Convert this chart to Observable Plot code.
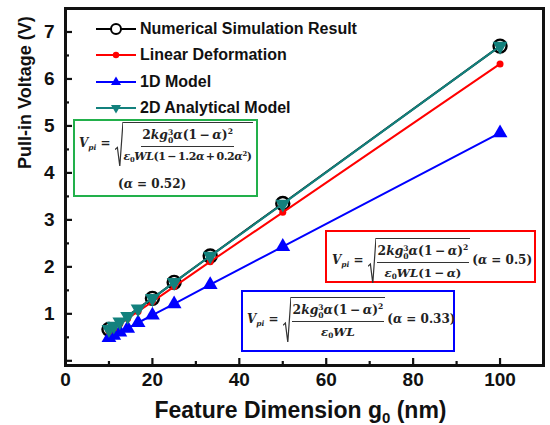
<!DOCTYPE html>
<html>
<head>
<meta charset="utf-8">
<script src="https://cdn.jsdelivr.net/npm/d3@7"></script>
<script src="https://cdn.jsdelivr.net/npm/@observablehq/plot@0.6"></script>
<style>
  html,body{margin:0;padding:0;background:#fff;}
  #wrap{position:relative;width:550px;height:425px;overflow:hidden;}
  #legend{position:absolute;left:96px;top:16px;font-family:"Liberation Sans",Arial,sans-serif;font-weight:bold;font-size:16px;color:#111;}
  #legend .row{display:flex;align-items:center;height:26.3px;}
  #legend svg{margin-right:4px;flex:none;}
  .fbox{position:absolute;border:2px solid;background:#fff;box-sizing:border-box;font-family:"DejaVu Serif",serif;font-weight:bold;font-style:normal;font-size:12px;color:#222;line-height:1.3;}
  .fbox i{font-style:italic;}
  .line{display:flex;align-items:center;white-space:nowrap;}
  .lhs{margin-right:4px;font-size:12px;}
  .lhs sub{font-size:0.62em;vertical-align:-0.35em;line-height:0;}
  .ss{position:relative;display:inline-block;font-size:0.62em;line-height:1;width:0.7em;}
  .ss .u{position:relative;top:-0.55em;}
  .ss .d{position:absolute;left:0;top:0.55em;}
  sup{font-size:0.62em;vertical-align:0.6em;line-height:0;}
  .num sub,.den sub{font-size:0.62em;vertical-align:-0.3em;line-height:0;}
  .rad{display:inline-flex;align-items:stretch;}
  .rsign{width:8px;flex:none;display:block;}
  .frac{display:inline-flex;flex-direction:column;align-items:center;border-top:1.2px solid #333;padding:4px 1px 0;}
  .frac .num{border-bottom:1px solid #333;padding:0 1px 3px;font-size:12.3px;}
  .frac .den{padding:3px 0 2px;font-size:11.8px;}
  .frac .den.long{font-size:11px;letter-spacing:-0.4px;}
  .alpha{white-space:nowrap;}
</style>
</head>
<body>
<div id="wrap">
  <div id="chart"></div>
  <div id="legend"></div>
  <div id="boxes"></div>
</div>
<script>
// ---- data ----
const gapX = [10, 11.1, 12.5, 14.3, 16.7, 20, 25, 33.3, 50, 100];
const simX = [10, 20, 25, 33.3, 50, 100];
const simV = [0.67, 1.33, 1.67, 2.23, 3.35, 6.70];
const linearV = [0.63, 0.70, 0.79, 0.90, 1.05, 1.26, 1.58, 2.11, 3.16, 6.32];
const model1DV = [0.49, 0.54, 0.61, 0.69, 0.81, 0.97, 1.21, 1.62, 2.43, 4.85];
const model2DV = [0.67, 0.74, 0.83, 0.95, 1.11, 1.33, 1.67, 2.23, 3.34, 6.70];
const seriesNames = ["Numerical Simulation Result", "Linear Deformation", "1D Model", "2D Analytical Model"];
const xMajor = [0, 20, 40, 60, 80, 100];
const xMinor = [10, 30, 50, 70, 90, 110];
const yMajor = [0, 1, 2, 3, 4, 5, 6, 7];
const yMinor = [0.5, 1.5, 2.5, 3.5, 4.5, 5.5, 6.5, 7.5];
const yLabels = [1, 2, 3, 4, 5, 6, 7];
const xTitle = "Feature Dimension g₀ (nm)";
const yTitle = "Pull-in Voltage (V)";

const colors = {sim: "#000000", lin: "#ff0000", d1: "#0000ff", d2: "#13817d"};

const sim = simX.map((x, i) => ({x, v: simV[i]}));
const lin = gapX.map((x, i) => ({x, v: linearV[i]}));
const d1 = gapX.map((x, i) => ({x, v: model1DV[i]}));
const d2 = gapX.map((x, i) => ({x, v: model2DV[i]}));

const W = 550, H = 425, mL = 65, mR = 7, mT = 8, mB = 60;
const innerW = W - mL - mR, innerH = H - mT - mB;

const chart = Plot.plot({
  width: W, height: H,
  marginLeft: mL, marginRight: mR, marginTop: mT, marginBottom: mB,
  x: {domain: [0, 110], label: null},
  y: {domain: [-0.1, 7.5], label: null},
  style: {fontFamily: "'Liberation Sans', Arial, sans-serif", background: "white", color: "#111"},
  marks: [
    Plot.line(sim, {x: "x", y: "v", stroke: colors.sim, strokeWidth: 2}),
    Plot.dot(sim, {x: "x", y: "v", r: 6.5, stroke: colors.sim, strokeWidth: 2.4, fill: "none"}),
    Plot.line(d1, {x: "x", y: "v", stroke: colors.d1, strokeWidth: 2}),
    Plot.dot(d1, {x: "x", y: "v", symbol: "triangle", r: 5.5, fill: colors.d1}),
    Plot.line(lin, {x: "x", y: "v", stroke: colors.lin, strokeWidth: 2}),
    Plot.dot(lin, {x: "x", y: "v", r: 3.5, fill: colors.lin}),
    Plot.line(d2, {x: "x", y: "v", stroke: colors.d2, strokeWidth: 2}),
    Plot.dot(d2, {x: "x", y: "v", symbol: "triangle", rotate: 180, r: 5.5, fill: colors.d2}),
    Plot.tickX(xMajor, {x: d => d, insetTop: innerH - 7, strokeWidth: 2.2}),
    Plot.tickX(xMinor, {x: d => d, insetTop: innerH - 4, strokeWidth: 2.2}),
    Plot.tickY(yMajor, {y: d => d, insetRight: innerW - 7, strokeWidth: 2.2}),
    Plot.tickY(yMinor, {y: d => d, insetRight: innerW - 4, strokeWidth: 2.2}),
    Plot.frame({strokeWidth: 3}),
    Plot.axisX(xMajor, {tickSize: 0, tickPadding: 7, fontSize: 19, fontWeight: "bold", label: null}),
    Plot.axisY(yLabels, {tickSize: 0, tickPadding: 11, fontSize: 19, fontWeight: "bold", label: null}),
    Plot.text([xTitle], {text: d => d, frameAnchor: "bottom", dx: -4, dy: 52, fontSize: 23, fontWeight: "bold"}),
    Plot.text([yTitle], {text: d => d, frameAnchor: "left", rotate: -90, dx: -40, dy: -18, fontSize: 18, fontWeight: "bold"})
  ]
});
document.getElementById("chart").appendChild(chart);

// real subscript for g0 in the x title
d3.select(chart).selectAll("text").each(function () {
  if (this.textContent === xTitle) {
    const [a, b] = xTitle.split("₀");
    const el = d3.select(this);
    el.text(null);
    el.append("tspan").text(a);
    el.append("tspan").attr("dy", 5).attr("font-size", 15).text("0");
    el.append("tspan").attr("dy", -5).text(b);
  }
});

// ---- legend ----
const swatches = [
  `<line x1="0" y1="7" x2="40" y2="7" stroke="${colors.sim}" stroke-width="2"/><circle cx="20" cy="7" r="5" fill="#fff" stroke="${colors.sim}" stroke-width="2"/>`,
  `<line x1="0" y1="7" x2="40" y2="7" stroke="${colors.lin}" stroke-width="2"/><circle cx="20" cy="7" r="3.2" fill="${colors.lin}"/>`,
  `<line x1="0" y1="7" x2="40" y2="7" stroke="${colors.d1}" stroke-width="2"/><path d="M20,1.5 L25,10 L15,10 Z" fill="${colors.d1}"/>`,
  `<line x1="0" y1="7" x2="40" y2="7" stroke="${colors.d2}" stroke-width="2"/><path d="M20,12.5 L25,4 L15,4 Z" fill="${colors.d2}"/>`
];
document.getElementById("legend").innerHTML = seriesNames.map((n, i) =>
  `<div class="row"><svg width="40" height="14">${swatches[i]}</svg><span>${n}</span></div>`).join("");

// ---- formula annotations ----
const rsign = `<svg class="rsign" viewBox="0 0 10 40" preserveAspectRatio="none"><polyline points="0,25 3,23 6,40 10,0" fill="none" stroke="#333" stroke-width="1.2" vector-effect="non-scaling-stroke"/></svg>`;
const T = "\u2009"; // thin space
const lhs = `<span class="lhs"><i>V</i><sub><i>pi</i></sub> =</span>`;
const num = `2<i>kg</i><span class="ss"><span class="u">3</span><span class="d">0</span></span><i>α</i>(1${T}−${T}<i>α</i>)<sup>2</sup>`;
const den2D = `<i>ε</i><sub>0</sub><i>WL</i>(1${T}−${T}1.2<i>α</i>${T}+${T}0.2<i>α</i><sup>2</sup>)`;
const denLin = `<i>ε</i><sub>0</sub><i>WL</i>(1${T}−${T}<i>α</i>)`;
const den1D = `<i>ε</i><sub>0</sub><i>WL</i>`;
const rad = (d, cls = "") => `<span class="rad">${rsign}<span class="frac"><span class="num">${num}</span><span class="den ${cls}">${d}</span></span></span>`;
const alpha = v => `(<i>α</i> = ${v})`;

document.getElementById("boxes").innerHTML = `
<div class="fbox" style="left:73px;top:119px;width:185px;height:78px;border-color:#22b04b;">
  <div class="line" style="margin:1px 0 0 4px;">${lhs}${rad(den2D, "long")}</div>
  <div class="alpha" style="margin:11px 0 0 43px;">${alpha("0.52")}</div>
</div>
<div class="fbox" style="left:325px;top:230px;width:211px;height:53px;border-color:#ff0000;">
  <div class="line" style="margin:6px 0 0 5px;">${lhs}${rad(denLin)}<span class="alpha" style="margin-left:2px;">${alpha("0.5")}</span></div>
</div>
<div class="fbox" style="left:241px;top:290px;width:214px;height:62px;border-color:#0000ff;">
  <div class="line" style="margin:5px 0 0 4px;">${lhs}${rad(den1D)}<span class="alpha" style="margin-left:2px;">${alpha("0.33")}</span></div>
</div>`;
</script>
</body>
</html>
